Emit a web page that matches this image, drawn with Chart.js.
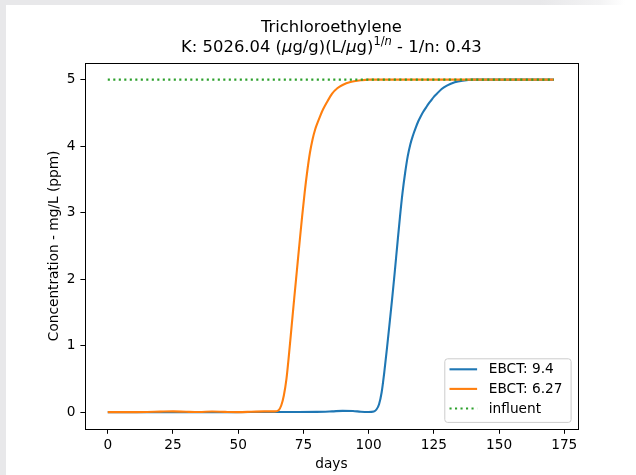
<!DOCTYPE html>
<html><head><meta charset="utf-8">
<script src="https://cdn.jsdelivr.net/npm/chart.js@4"></script>
<style>
html,body{margin:0;padding:0;background:#fff;width:636px;height:475px;overflow:hidden}
#gl{position:absolute;left:0;top:0;width:6px;height:475px;background:#e8e8ea}
#gt{position:absolute;left:0;top:0;width:625px;height:5px;background:linear-gradient(to right,#e8e8ea 0,#e8e8ea 540px,#f3f3f4 600px,#fff 625px)}
canvas{position:absolute;left:0;top:0}
</style></head><body>
<div id="gl"></div><div id="gt"></div>
<canvas id="c" width="636" height="475"></canvas>
<script>
// ---- data ----
const chartTitle = "Trichloroethylene";
const seriesLabels = ["EBCT: 9.4", "EBCT: 6.27", "influent"];
const xTicks = [0, 25, 50, 75, 100, 125, 150, 175];
const yTicks = [0, 1, 2, 3, 4, 5];

const blueDays = [0, 20, 40, 55, 70, 80, 86, 90, 94, 97, 100, 102, 103, 104, 105, 106, 107, 108, 109, 110, 111, 112, 113, 114, 115, 116, 117, 118, 119, 120, 121, 122, 123, 124, 125, 126, 128, 130, 133, 136, 140, 150, 171];
const blueConc = [0, 0, 0, 0.002, 0.003, 0.004, 0.012, 0.02, 0.018, 0.006, 0.002, 0.01, 0.04, 0.12, 0.3, 0.6, 0.95, 1.32, 1.7, 2.1, 2.52, 2.93, 3.3, 3.6, 3.85, 4.03, 4.16, 4.27, 4.37, 4.45, 4.52, 4.58, 4.64, 4.69, 4.74, 4.78, 4.86, 4.91, 4.96, 4.985, 5.0, 5.0, 5.0];

const orangeDays = [0, 8, 15, 20, 25, 30, 35, 40, 45, 50, 55, 60, 64, 65.5, 66.5, 67.5, 68.5, 69.5, 70.5, 71.5, 72.5, 73.5, 74.5, 75.5, 76.5, 77.5, 78.5, 79.5, 80.5, 81.5, 82.5, 84, 86, 88, 90, 93, 97, 100, 110, 130, 150, 171];
const orangeConc = [0, 0, 0.003, 0.008, 0.012, 0.006, 0.002, 0.009, 0.004, 0.001, 0.006, 0.012, 0.012, 0.03, 0.1, 0.25, 0.5, 0.88, 1.3, 1.72, 2.13, 2.54, 2.94, 3.31, 3.63, 3.9, 4.1, 4.25, 4.36, 4.46, 4.55, 4.66, 4.79, 4.87, 4.92, 4.965, 4.99, 5.0, 5.0, 5.0, 5.0, 5.0];

const influentDays = [0, 171];
const influentConc = [5.0, 5.0];

// ---- chart ----
const FONT = '"DejaVu Sans", sans-serif';
const FS = 13.7;
const colors = ['#1f77b4', '#ff7f0e', '#2ca02c'];
const dashes = [[], [], [2.1, 3.4]];
const pts = (xs, ys) => xs.map((x, i) => ({x: x, y: ys[i]}));

const deco = {
  id: 'deco',
  afterDatasetsDraw(chart) {
    const ctx = chart.ctx, a = chart.chartArea;
    ctx.save();
    // frame
    ctx.strokeStyle = '#000'; ctx.lineWidth = 1;
    ctx.strokeRect(Math.round(a.left) + 0.5, Math.round(a.top) + 0.5, Math.round(a.right) - Math.round(a.left), Math.round(a.bottom) - Math.round(a.top));
    // legend
    const bx = a.right - 6.9 - 126.3, by = a.bottom - 6.9 - 63.6, bw = 126.3, bh = 63.6;
    ctx.beginPath();
    ctx.roundRect(bx + 0.5, by + 0.5, bw, bh, 2.8);
    ctx.fillStyle = 'rgba(255,255,255,0.8)'; ctx.fill();
    ctx.strokeStyle = '#cccccc'; ctx.lineWidth = 1; ctx.stroke();
    chart.data.datasets.forEach((ds, i) => {
      const ly = by + 11 + i * 19.6;
      ctx.beginPath();
      ctx.setLineDash(dashes[i]);
      ctx.lineCap = 'butt';
      ctx.strokeStyle = ds.borderColor; ctx.lineWidth = 2.1;
      ctx.moveTo(bx + 5.2, ly); ctx.lineTo(bx + 32.8, ly); ctx.stroke();
      ctx.setLineDash([]);
      ctx.fillStyle = '#000'; ctx.font = FS + 'px ' + FONT;
      ctx.textBaseline = 'middle'; ctx.textAlign = 'left';
      ctx.fillText(ds.label, bx + 44.5, ly + 0.5);
    });
    // title
    const cx = (a.left + a.right) / 2;
    ctx.fillStyle = '#000'; ctx.textAlign = 'left'; ctx.textBaseline = 'alphabetic';
    ctx.font = '16.4px ' + FONT;
    const w1 = ctx.measureText(chartTitle).width;
    ctx.fillText(chartTitle, cx - w1 / 2, 32);
    const segs = [
      {t: 'K: 5026.04 ('}, {t: 'μ', it: 1}, {t: 'g/g)(L/'}, {t: 'μ', it: 1}, {t: 'g)'},
      {t: '1/', sup: 1}, {t: 'n', sup: 1, it: 1}, {t: ' - 1/n: 0.43'}
    ];
    const fontFor = s => (s.it ? 'oblique ' : '') + (s.sup ? '11.5px ' : '16.4px ') + FONT;
    const ws = segs.map(s => { ctx.font = fontFor(s); return ctx.measureText(s.t).width; });
    let x = cx - ws.reduce((p, c) => p + c, 0) / 2;
    segs.forEach((s, i) => { ctx.font = fontFor(s); ctx.fillText(s.t, x, 52 - (s.sup ? 7 : 0)); x += ws[i]; });
    ctx.restore();
  }
};

new Chart(document.getElementById('c'), {
  type: 'line',
  data: {
    datasets: [
      {label: seriesLabels[0], data: pts(blueDays, blueConc), borderColor: colors[0], order: 3},
      {label: seriesLabels[1], data: pts(orangeDays, orangeConc), borderColor: colors[1], order: 2},
      {label: seriesLabels[2], data: pts(influentDays, influentConc), borderColor: colors[2], borderDash: dashes[2], order: 1}
    ]
  },
  options: {
    responsive: false, animation: false, devicePixelRatio: 1,
    layout: {padding: {left: 45.8, right: 58.5, top: 63, bottom: 2.8}},
    elements: {
      point: {radius: 0},
      line: {borderWidth: 2.1, fill: false, cubicInterpolationMode: 'monotone', borderCapStyle: 'butt'}
    },
    plugins: {legend: {display: false}, title: {display: false}, tooltip: {enabled: false}},
    scales: {
      x: {
        type: 'linear', min: -8.575, max: 180.075,
        afterBuildTicks: s => { s.ticks = xTicks.map(v => ({value: v})); },
        afterFit: s => { s.height = 43.4; },
        grid: {drawOnChartArea: false, drawTicks: true, tickLength: 5, color: '#000', lineWidth: 1},
        border: {display: false},
        ticks: {color: '#000', padding: 3, font: {family: FONT, size: FS}, maxRotation: 0, autoSkip: false},
        title: {display: true, text: 'days', color: '#000', padding: 0, font: {family: FONT, size: FS}}
      },
      y: {
        type: 'linear', min: -0.25, max: 5.25,
        afterBuildTicks: s => { s.ticks = yTicks.map(v => ({value: v})); },
        afterFit: s => { s.width = 39.6; },
        grid: {drawOnChartArea: false, drawTicks: true, tickLength: 5, color: '#000', lineWidth: 1},
        border: {display: false},
        ticks: {color: '#000', padding: 5, font: {family: FONT, size: FS}, autoSkip: false},
        title: {display: true, text: 'Concentration - mg/L (ppm)', color: '#000', padding: 0, font: {family: FONT, size: FS}}
      }
    }
  },
  plugins: [deco]
});
</script>
</body></html>
